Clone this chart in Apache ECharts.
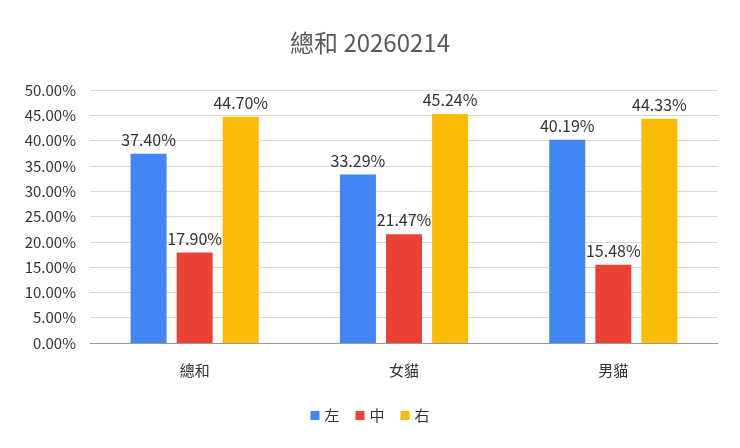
<!DOCTYPE html>
<html>
<head>
<meta charset="utf-8">
<script src="https://cdn.jsdelivr.net/npm/echarts@6/dist/echarts.min.js"></script>
<style>html,body{margin:0;padding:0;background:#fff}#main{width:740px;height:448px}</style>
</head>
<body>
<div id="main"></div>
<script>
var categories = ['總和', '女貓', '男貓'];
var seriesNames = ['左', '中', '右'];
var leftValues = [37.40, 33.29, 40.19];
var midValues = [17.90, 21.47, 15.48];
var rightValues = [44.70, 45.24, 44.33];
var colors = ['#4285F4', '#EA4335', '#FBBC04'];

var font = "'Noto Sans CJK TC', 'Noto Sans', sans-serif";
function makeSeries(name, data){
    return {
        name: name,
        type: 'bar',
        barWidth: 36,
        barGap: '28%',
        data: data,
        label: {
            show: true,
            position: 'top',
            distance: 6,
            color: '#333',
            fontSize: 16,
            fontFamily: font,
            formatter: function(p){ return p.value.toFixed(2) + '%'; }
        }
    };
}

var chart = echarts.init(document.getElementById('main'));
chart.setOption({
    color: colors,
    title: {
        text: '總和 20260214',
        left: 'center',
        top: 26,
        textStyle: {color: '#595959', fontSize: 24, fontWeight: 'normal', fontFamily: font}
    },
    legend: {
        bottom: 20,
        itemWidth: 9,
        itemHeight: 9,
        icon: 'rect',
        itemGap: 16,
        textStyle: {color: '#333', fontSize: 15, fontFamily: font},
        data: seriesNames
    },
    grid: {left: 90, right: 22, top: 90, bottom: 105},
    xAxis: {
        type: 'category',
        data: categories,
        axisTick: {show: false},
        axisLine: {lineStyle: {color: '#999'}},
        axisLabel: {color: '#333', fontSize: 15, fontFamily: font, margin: 20}
    },
    yAxis: {
        type: 'value',
        min: 0,
        max: 50,
        interval: 5,
        axisLabel: {color: '#333', fontSize: 15, fontFamily: font, margin: 14,
            formatter: function(v){ return v.toFixed(2) + '%'; }},
        splitLine: {lineStyle: {color: '#d9d9d9'}}
    },
    series: [
        makeSeries(seriesNames[0], leftValues),
        makeSeries(seriesNames[1], midValues),
        makeSeries(seriesNames[2], rightValues)
    ]
});
</script>
</body>
</html>
